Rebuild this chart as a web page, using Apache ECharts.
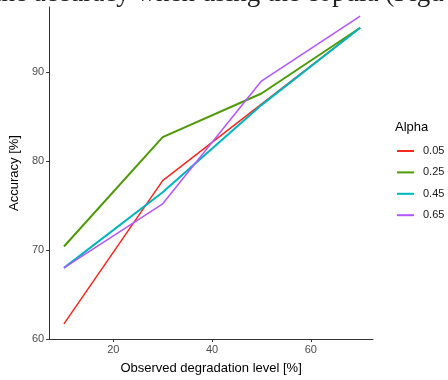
<!DOCTYPE html>
<html>
<head>
<meta charset="utf-8">
<style>
  html, body { margin: 0; padding: 0; background: #fff; }
  #chart { width: 448px; height: 380px; }
</style>
<script src="https://cdn.jsdelivr.net/npm/echarts@6/dist/echarts.min.js"></script>
</head>
<body>
<div id="chart"></div>
<script>
// Accuracy vs. observed degradation level, one line per alpha value
const degradation = [10, 30, 50, 70];
const alphaLevels = ['0.05', '0.25', '0.45', '0.65'];
const acc005 = [61.7, 77.8, 86.4, 95.0];
const acc025 = [70.4, 82.7, 87.6, 95.0];
const acc045 = [68.0, 76.5, 86.3, 95.0];
const acc065 = [68.0, 75.2, 89.0, 96.3];
const xTicks = [20, 40, 60];
const yTicks = [60, 70, 80, 90];

const seriesValues = [acc005, acc025, acc045, acc065];
const colors = ['#F8281E', '#4E9A06', '#00B4BE', '#B456FF'];
const widths = [1.5, 2, 2, 1.5];

const chart = echarts.init(document.getElementById('chart'), null, { renderer: 'canvas' });
const font = '"Liberation Sans", Arial, sans-serif';

chart.setOption({
  animation: false,
  backgroundColor: '#fff',
  color: colors,
  grid: { left: 45, right: 75, top: 7, bottom: 37, containLabel: false },
  xAxis: {
    type: 'value',
    min: 7, max: 72.6,
    name: 'Observed degradation level [%]',
    nameLocation: 'middle',
    nameGap: 23,
    nameTextStyle: { color: '#000', fontSize: 13, fontFamily: font },
    axisLine: { show: true, lineStyle: { color: '#333', width: 1 } },
    axisTick: { show: true, length: 3, lineStyle: { color: '#333' }, customValues: xTicks },
    axisLabel: { color: '#4D4D4D', fontSize: 11, fontFamily: font, margin: 5, customValues: xTicks },
    splitLine: { show: false }
  },
  yAxis: {
    type: 'value',
    min: 60, max: 97.33,
    name: 'Accuracy [%]',
    nameLocation: 'middle',
    nameGap: 27,
    nameTextStyle: { color: '#000', fontSize: 13, fontFamily: font },
    axisLine: { show: true, lineStyle: { color: '#333', width: 1 } },
    axisTick: { show: true, length: 3, lineStyle: { color: '#333' }, customValues: yTicks },
    axisLabel: { color: '#4D4D4D', fontSize: 11, fontFamily: font, margin: 5, customValues: yTicks },
    splitLine: { show: false }
  },
  legend: {
    orient: 'vertical',
    left: 397, top: 145.5,
    padding: 0,
    itemWidth: 17, itemHeight: 2,
    itemGap: 10.4,
    icon: 'rect',
    textStyle: { color: '#1a1a1a', fontSize: 11, fontFamily: font, padding: [0, 0, 0, 4] },
    data: alphaLevels
  },
  graphic: [
    {
      type: 'text', left: 395, top: 121,
      style: { text: 'Alpha', fill: '#000', font: '13px ' + font }
    },
    {
      type: 'text', x: -6, y: 7,
      style: {
        text: 'the accuracy when using the copula (Figu',
        fill: '#222', font: '27px "Liberation Serif", "Times New Roman", serif',
        verticalAlign: 'bottom'
      }
    }
  ],
  series: alphaLevels.map((name, i) => ({
    name: name,
    type: 'line',
    symbol: 'none',
    smooth: false,
    z: 2 + i,
    lineStyle: { width: widths[i], color: colors[i] },
    data: degradation.map((x, j) => [x, seriesValues[i][j]])
  }))
});
</script>
</body>
</html>
